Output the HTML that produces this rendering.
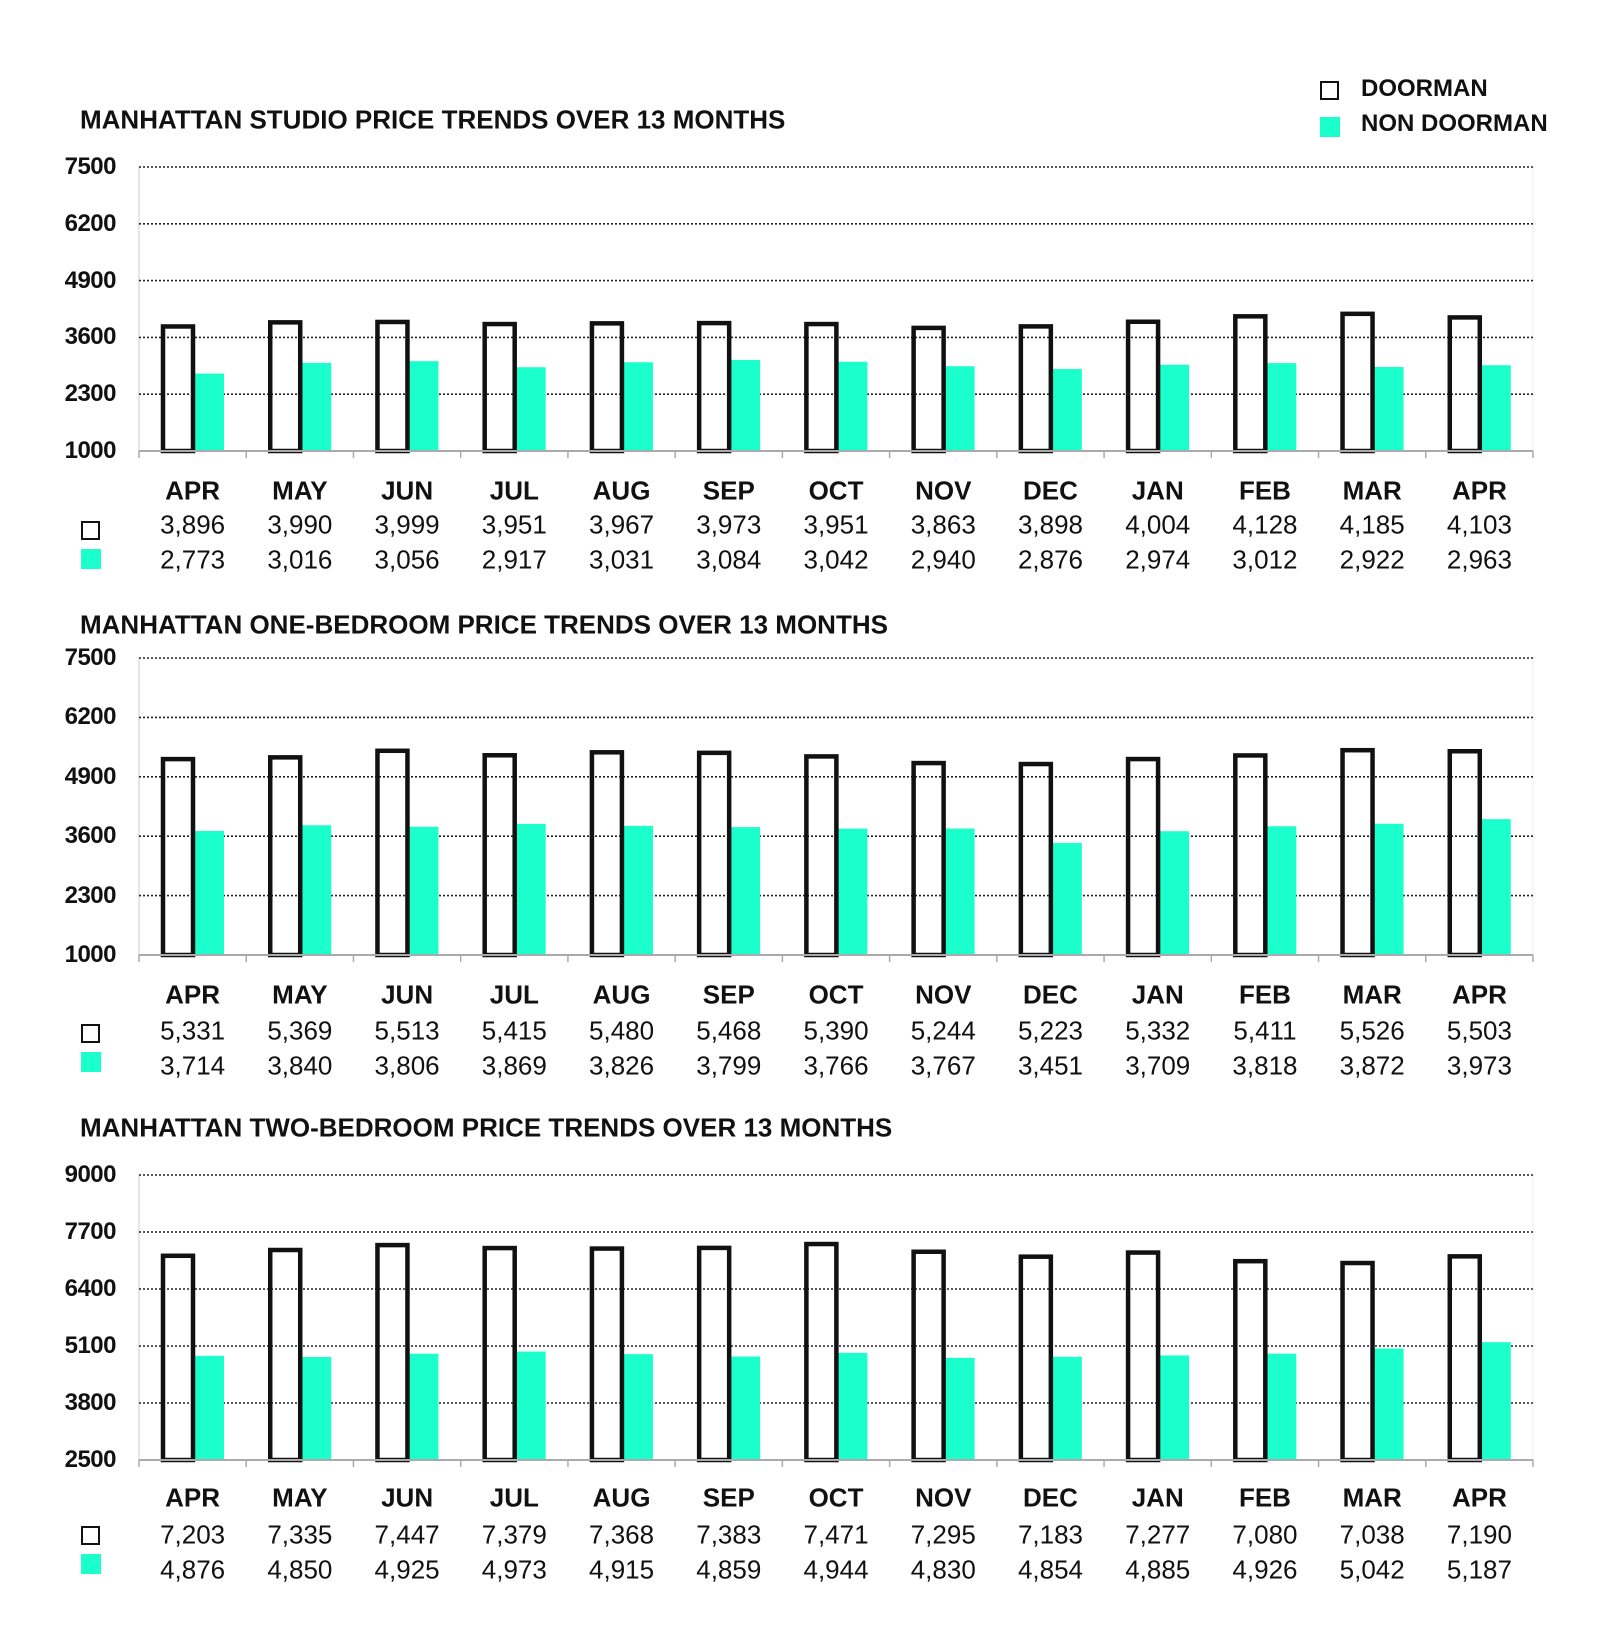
<!DOCTYPE html>
<html><head><meta charset="utf-8">
<style>
body{margin:0;background:#fff;width:1600px;height:1649px;position:relative;overflow:hidden;font-family:"Liberation Sans",Arial,sans-serif;color:#111}
.t{position:absolute;font-weight:bold;font-size:26px;white-space:nowrap;transform:translateY(-50%)}
.yl{position:absolute;right:1484px;font-weight:bold;font-size:24px;letter-spacing:-0.5px;transform:translateY(-50%)}
.row{position:absolute;left:139px;width:1394px;display:flex;transform:translateY(-50%)}
.row div{flex:1;text-align:center;font-size:26px}
.row.m div{font-weight:bold}
.sq{position:absolute;left:81px;width:15px;height:15px;border:2.5px solid #111}
.cy{position:absolute;left:81px;width:20px;height:20px;background:#1affcc}
svg{position:absolute;left:0;top:0}
</style></head><body>
<svg id="s" width="1600" height="1649"></svg>

<div class="t" style="left:80px;top:120px">MANHATTAN STUDIO PRICE TRENDS OVER 13 MONTHS</div>
<div class="t" style="left:80px;top:625px">MANHATTAN ONE-BEDROOM PRICE TRENDS OVER 13 MONTHS</div>
<div class="t" style="left:80px;top:1128px">MANHATTAN TWO-BEDROOM PRICE TRENDS OVER 13 MONTHS</div>

<div class="sq" style="left:1320px;top:81px;width:15px;height:15px"></div>
<div class="t" style="left:1361px;top:89px;font-size:24px">DOORMAN</div>
<div class="cy" style="left:1320px;top:117px"></div>
<div class="t" style="left:1361px;top:124px;font-size:24px">NON DOORMAN</div>

<div class="yl" style="top:167px">7500</div><div class="yl" style="top:224px">6200</div><div class="yl" style="top:281px">4900</div><div class="yl" style="top:337px">3600</div><div class="yl" style="top:394px">2300</div><div class="yl" style="top:451px">1000</div>
<div class="yl" style="top:658px">7500</div><div class="yl" style="top:717px">6200</div><div class="yl" style="top:777px">4900</div><div class="yl" style="top:836px">3600</div><div class="yl" style="top:896px">2300</div><div class="yl" style="top:955px">1000</div>
<div class="yl" style="top:1175px">9000</div><div class="yl" style="top:1232px">7700</div><div class="yl" style="top:1289px">6400</div><div class="yl" style="top:1346px">5100</div><div class="yl" style="top:1403px">3800</div><div class="yl" style="top:1460px">2500</div>

<div class="row m" style="top:491px"><div>APR</div><div>MAY</div><div>JUN</div><div>JUL</div><div>AUG</div><div>SEP</div><div>OCT</div><div>NOV</div><div>DEC</div><div>JAN</div><div>FEB</div><div>MAR</div><div>APR</div></div>
<div class="row" style="top:525px"><div>3,896</div><div>3,990</div><div>3,999</div><div>3,951</div><div>3,967</div><div>3,973</div><div>3,951</div><div>3,863</div><div>3,898</div><div>4,004</div><div>4,128</div><div>4,185</div><div>4,103</div></div>
<div class="row" style="top:560px"><div>2,773</div><div>3,016</div><div>3,056</div><div>2,917</div><div>3,031</div><div>3,084</div><div>3,042</div><div>2,940</div><div>2,876</div><div>2,974</div><div>3,012</div><div>2,922</div><div>2,963</div></div>
<div class="sq" style="top:521px"></div><div class="cy" style="top:549px"></div>

<div class="row m" style="top:995px"><div>APR</div><div>MAY</div><div>JUN</div><div>JUL</div><div>AUG</div><div>SEP</div><div>OCT</div><div>NOV</div><div>DEC</div><div>JAN</div><div>FEB</div><div>MAR</div><div>APR</div></div>
<div class="row" style="top:1031px"><div>5,331</div><div>5,369</div><div>5,513</div><div>5,415</div><div>5,480</div><div>5,468</div><div>5,390</div><div>5,244</div><div>5,223</div><div>5,332</div><div>5,411</div><div>5,526</div><div>5,503</div></div>
<div class="row" style="top:1066px"><div>3,714</div><div>3,840</div><div>3,806</div><div>3,869</div><div>3,826</div><div>3,799</div><div>3,766</div><div>3,767</div><div>3,451</div><div>3,709</div><div>3,818</div><div>3,872</div><div>3,973</div></div>
<div class="sq" style="top:1024px"></div><div class="cy" style="top:1052px"></div>

<div class="row m" style="top:1498px"><div>APR</div><div>MAY</div><div>JUN</div><div>JUL</div><div>AUG</div><div>SEP</div><div>OCT</div><div>NOV</div><div>DEC</div><div>JAN</div><div>FEB</div><div>MAR</div><div>APR</div></div>
<div class="row" style="top:1535px"><div>7,203</div><div>7,335</div><div>7,447</div><div>7,379</div><div>7,368</div><div>7,383</div><div>7,471</div><div>7,295</div><div>7,183</div><div>7,277</div><div>7,080</div><div>7,038</div><div>7,190</div></div>
<div class="row" style="top:1570px"><div>4,876</div><div>4,850</div><div>4,925</div><div>4,973</div><div>4,915</div><div>4,859</div><div>4,944</div><div>4,830</div><div>4,854</div><div>4,885</div><div>4,926</div><div>5,042</div><div>5,187</div></div>
<div class="sq" style="top:1526px"></div><div class="cy" style="top:1554px"></div>

<script>
var s=document.getElementById('s'),h='';
var charts=[
{top:167,bot:451,min:1000,max:7500,d:[3896,3990,3999,3951,3967,3973,3951,3863,3898,4004,4128,4185,4103],n:[2773,3016,3056,2917,3031,3084,3042,2940,2876,2974,3012,2922,2963]},
{top:658,bot:955,min:1000,max:7500,d:[5331,5369,5513,5415,5480,5468,5390,5244,5223,5332,5411,5526,5503],n:[3714,3840,3806,3869,3826,3799,3766,3767,3451,3709,3818,3872,3973]},
{top:1175,bot:1460,min:2500,max:9000,d:[7203,7335,7447,7379,7368,7383,7471,7295,7183,7277,7080,7038,7190],n:[4876,4850,4925,4973,4915,4859,4944,4830,4854,4885,4926,5042,5187]}];
var L=139,R=1533,W=(R-L)/13;
charts.forEach(function(c){
 var st=(c.bot-c.top)/5;
 h+='<line x1="'+L+'" y1="'+c.top+'" x2="'+L+'" y2="'+c.bot+'" stroke="#ccc" stroke-width="1"/>';
 h+='<line x1="'+R+'" y1="'+c.top+'" x2="'+R+'" y2="'+c.bot+'" stroke="#eee" stroke-width="1"/>';
 for(var i=0;i<5;i++){var y=c.top+i*st;h+='<line x1="'+L+'" y1="'+y+'" x2="'+R+'" y2="'+y+'" stroke="#222" stroke-width="1.6" stroke-dasharray="2,2"/>';}
 var sc=(c.bot-c.top)/(c.max-c.min);
 for(var k=0;k<13;k++){
  var x0=L+k*W;
  var yd=c.bot-(c.d[k]-c.min)*sc, yn=c.bot-(c.n[k]-c.min)*sc;
  h+='<rect x="'+(x0+55)+'" y="'+yn+'" width="30" height="'+(c.bot-yn)+'" fill="#1affcc"/>';
  h+='<rect x="'+(x0+24)+'" y="'+(yd+2)+'" width="30" height="'+(c.bot-yd-2)+'" fill="none" stroke="#111" stroke-width="4.5"/>';
 }
 h+='<line x1="'+L+'" y1="'+c.bot+'" x2="'+R+'" y2="'+c.bot+'" stroke="#aaa" stroke-width="2"/>';
 for(var k=0;k<=13;k++){var x=L+k*W;h+='<line x1="'+x+'" y1="'+c.bot+'" x2="'+x+'" y2="'+(c.bot+7)+'" stroke="#aaa" stroke-width="1.5"/>';}
});
s.innerHTML=h;
</script>
</body></html>
